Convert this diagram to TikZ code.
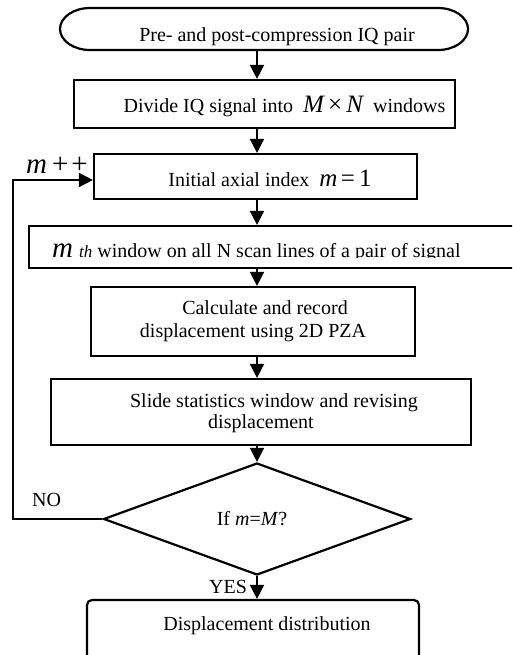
\documentclass[tikz,border=0pt]{standalone}
\usepackage{fontspec}
\setmainfont{Liberation Serif}
\usetikzlibrary{arrows.meta,shapes.geometric}
\newcommand\fsz{\fontsize{20}{23}\selectfont}
\newcommand\fmath{\fontsize{25}{28}\selectfont}
\newcommand\fbig{\fontsize{29}{32}\selectfont}
\newcommand\fsm{\fontsize{17}{18}\selectfont}
\tikzset{
  box/.style={draw, line width=2.2pt, rectangle, inner sep=0pt},
  txt/.style={font=\fsz, inner sep=0pt, anchor=base},
  conn/.style={line width=1.6pt, -{Triangle[length=14pt,width=14pt]}},
}
\begin{document}
\begin{tikzpicture}[x=1pt,y=-1pt]
\clip (0,0) rectangle (512,655);
\fill[white] (0,0) rectangle (512,655);
\coordinate (ax) at (257,0);
% start terminal
\node[minimum width=408pt, minimum height=42pt, inner sep=0pt] (start) at (264,29) {};
\draw[line width=2.2pt] (90,8) -- (438,8) arc[start angle=-90, end angle=90, x radius=30, y radius=21]
   -- (90,50) arc[start angle=90, end angle=270, x radius=30, y radius=21] -- cycle;
\node[txt] (t1) at (277,42) {Pre- and post-compression IQ pair};
% boxes
\node[box, minimum width=381pt, minimum height=48pt] (b2) at (264.5,104) {};
\node[txt] (t2) at (284.5,113) {Divide IQ signal into \ {\fmath\itshape M\,}{\fmath ×}{\fmath\itshape\,N} \ windows};
\node[box, minimum width=323pt, minimum height=45pt] (b3) at (255.5,176.5) {};
\node[txt] (t3) at (270,186) {Initial axial index \ {\fmath\itshape m}\,{\fmath =\,1}};
\node[box, minimum width=486pt, minimum height=42pt] (b4) at (272,247) {};
\begin{scope}
\clip (30,227) rectangle (512,257.5);
\node[txt, anchor=base west] (t4) at (52,257) {{\fbig\itshape m}\hspace{6pt}{\fsm\itshape th} window on all N scan lines of a pair of signal};
\end{scope}
\node[box, minimum width=324pt, minimum height=69pt] (b5) at (253,321.5) {};
\node[txt] (t5a) at (265,314) {Calculate and record};
\node[txt] (t5b) at (253,337) {displacement using 2D PZA};
\node[box, minimum width=420pt, minimum height=66pt] (b6) at (261,412) {};
\node[txt] (t6a) at (274,407) {Slide statistics window and revising};
\node[txt] (t6b) at (261,428) {displacement};
\node[draw, line width=2.2pt, diamond, minimum width=307pt, minimum height=112pt, inner sep=0pt] (d) at (257,519) {};
\node[txt] (td) at (252,525) {If \textit{m}=\textit{M}?};
\node[box, rounded corners=5pt, minimum width=332pt, minimum height=70pt] (fin) at (253,635) {};
\node[txt] (tf) at (267,630) {Displacement distribution};
% connectors
\draw[conn] (start.south -| ax) -- (b2.north -| ax);
\draw[conn] (b2.south -| ax) -- (b3.north -| ax);
\draw[conn] (b3.south -| ax) -- (b4.north -| ax);
\draw[conn] (b4.south -| ax) -- (b5.north -| ax);
\draw[conn] (b5.south -| ax) -- (b6.north -| ax);
\draw[conn] (b6.south -| d.north) -- (d.north);
\draw[conn] (d.south) -- (fin.north -| d.south);
\coordinate (lx) at (13,0);
\draw[conn] (d.west) -- (d.west -| lx) -- (lx |- 180,180) -- (b3.west |- 180,180);
% labels
\node[font=\fbig, inner sep=0pt, anchor=base west] (mpp) at (26,173) {\textit{m}\hspace{5pt}+\hspace{3pt}+};
\node[txt, anchor=base west] (no) at (32,506) {NO};
\node[txt, anchor=base west] (yes) at (209,593) {YES};
\end{tikzpicture}
\end{document}
